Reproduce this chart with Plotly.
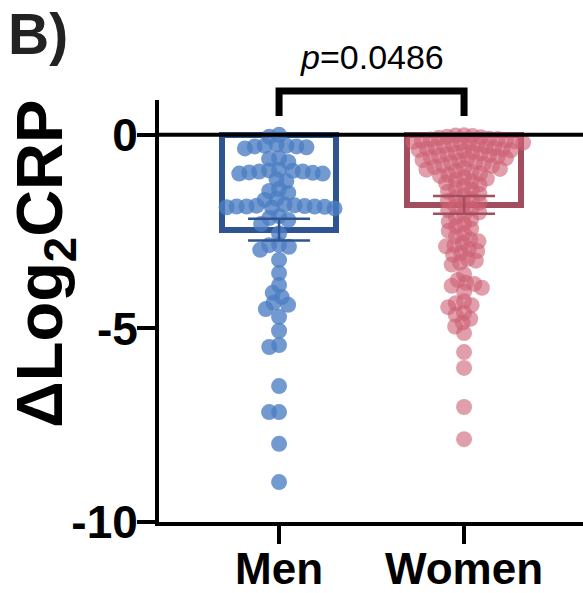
import plotly.graph_objects as go

# ---------------- data ----------------
groups = ["Men", "Women"]
group_x = [0, 1]

men_values = [
    0.0, -0.05,
    -0.25, -0.28, -0.3, -0.3, -0.32, -0.35, -0.28,
    -0.6, -0.62, -0.7,
    -0.9, -0.92, -0.95, -0.95, -0.97, -1.0, -1.0, -0.98, -0.93,
    -1.15, -1.2,
    -1.4, -1.45, -1.5,
    -1.65, -1.68,
    -1.8, -1.82, -1.85, -1.85, -1.87, -1.88, -1.9, -1.85, -1.83, -1.86, -1.84,
    -2.1, -2.15, -2.2,
    -2.3, -2.55,
    -2.84, -2.85, -2.89, -2.97, -3.23, -3.57, -3.88, -4.08, -4.19, -4.34,
    -4.39, -4.50, -4.70, -5.06, -5.43, -5.48, -6.49, -7.16, -7.16, -7.98, -8.97,
]

women_values = [
    -0.01, -0.02, -0.03, -0.05, -0.06, -0.08, -0.1, -0.11, -0.12, -0.14,
    -0.15, -0.17, -0.18, -0.2, -0.21, -0.23, -0.25, -0.26, -0.28, -0.3,
    -0.32, -0.34, -0.35, -0.37, -0.39, -0.4, -0.42, -0.44, -0.46, -0.48,
    -0.5, -0.52, -0.54, -0.56, -0.58, -0.6, -0.62, -0.65, -0.67, -0.7,
    -0.72, -0.75, -0.78, -0.8, -0.83, -0.86, -0.88, -0.9, -0.93, -0.96,
    -1.0, -1.03, -1.06, -1.1, -1.13, -1.16, -1.2, -1.24,
    -1.28, -1.33, -1.38, -1.42, -1.47, -1.52, -1.57, -1.62, -1.66, -1.7,
    -1.75, -1.8, -1.85, -1.9,
    -1.95, -2.0, -2.06, -2.12, -2.18, -2.24, -2.3, -2.36, -2.42, -2.48, -2.55, -2.62,
    -2.7, -2.75, -2.8, -2.85, -2.88, -2.95, -3.0, -3.05, -3.1, -3.2, -3.25, -3.3,
    -3.35, -3.6, -3.75, -3.82, -3.85, -3.9, -3.95, -4.05,
    -4.3, -4.35, -4.4, -4.45, -4.6, -4.65, -4.75, -4.85, -4.95, -5.12,
    -5.61, -6.02, -7.03, -7.86,
]

bar_means = [-2.45, -1.81]
bar_sems = [0.28, 0.23]

y_tick_vals = [0, -5, -10]
y_tick_text = ["0", "-5", "-10"]
p_label = "<i>p</i>=0.0486"
panel_label = "B)"
y_title = "ΔLog<sub>2</sub>CRP"

# ---------------- styling ----------------
W, H = 583, 593
M = dict(l=159, r=0, t=100, b=71)
x_range = [-0.649, 1.643]
y_range = [-10, 0.9]
FONT = "Liberation Sans, Arial, sans-serif"

men_dark = "#2E5491"
women_dark = "#A34E5E"
men_pt = "rgba(75,125,195,0.78)"
women_pt = "rgba(205,95,115,0.6)"

plot_w = W - M["l"] - M["r"]
plot_h = H - M["t"] - M["b"]
px_x = plot_w / (x_range[1] - x_range[0])
px_y = plot_h / (y_range[1] - y_range[0])


def paper_y(pix):
    """Convert a pixel row (from top) into paper y."""
    return (H - M["b"] - pix) / plot_h


def paper_x(pix):
    return (pix - M["l"]) / plot_w


def swarm(values, D):
    """Beeswarm offsets (in x data units) computed in pixel space."""
    ys = [v * px_y for v in values]
    order = sorted(range(len(values)), key=lambda i: -values[i])
    placed = []
    xs = [0.0] * len(values)
    for i in order:
        y = ys[i]
        ivs = []
        for xj, yj in placed:
            dy = abs(y - yj)
            if dy < D:
                dx = (D * D - dy * dy) ** 0.5
                ivs.append((xj - dx, xj + dx))
        cands = [0.0] + [a for a, b in ivs] + [b for a, b in ivs]
        cands.sort(key=abs)
        for c in cands:
            if all(not (a + 1e-6 < c < b - 1e-6) for a, b in ivs):
                xs[i] = c
                break
        placed.append((xs[i], y))
    return [x / px_x for x in xs]


men_off = swarm(men_values, 10)
women_off = swarm(women_values, 8.5)

fig = go.Figure()

fig.add_trace(go.Bar(
    x=group_x, y=bar_means, width=0.62,
    marker=dict(color="rgba(255,255,255,0)",
                line=dict(color=[men_dark, women_dark], width=6)),
    showlegend=False, hoverinfo="skip",
))

fig.add_trace(go.Scatter(
    x=[group_x[0] + o for o in men_off], y=men_values, mode="markers",
    marker=dict(size=16, color=men_pt, line=dict(width=0)), showlegend=False,
))
fig.add_trace(go.Scatter(
    x=[group_x[1] + o for o in women_off], y=women_values, mode="markers",
    marker=dict(size=16, color=women_pt, line=dict(width=0)), showlegend=False,
))

for gx, m, s, c in zip(group_x, bar_means, bar_sems, [men_dark, women_dark]):
    fig.add_trace(go.Scatter(
        x=[gx], y=[m], mode="markers",
        marker=dict(size=1, color="rgba(0,0,0,0)"),
        error_y=dict(type="data", array=[s], symmetric=True, color=c,
                     thickness=2.5, width=31),
        showlegend=False, hoverinfo="skip",
    ))

fig.add_shape(type="line", xref="paper", x0=0, x1=1, yref="y", y0=0, y1=0,
              line=dict(color="black", width=4), layer="above")

# significance bracket
leg_bottom = paper_y(116)
top = paper_y(91)
fig.add_shape(type="path", xref="x", yref="paper",
              path=(f"M {group_x[0]},{leg_bottom} L {group_x[0]},{top} "
                    f"L {group_x[1]},{top} L {group_x[1]},{leg_bottom}"),
              line=dict(color="black", width=7))

fig.add_annotation(text=p_label, xref="x", x=0.5, xanchor="center",
                   yref="paper", y=paper_y(57), yanchor="middle",
                   showarrow=False,
                   font=dict(family=FONT, size=34, color="black"))
fig.add_annotation(text=panel_label, xref="paper", x=paper_x(6),
                   xanchor="left", yref="paper", y=paper_y(0),
                   yanchor="top", showarrow=False,
                   font=dict(family=FONT, size=57, color="#222222", weight="bold"))
fig.add_annotation(text=y_title, xref="paper", x=paper_x(44), xanchor="center",
                   yref="paper", y=paper_y(264), yanchor="middle",
                   textangle=-90, showarrow=False,
                   font=dict(family=FONT, size=65, color="black", weight="bold"))

fig.update_layout(
    template="none",
    width=W, height=H, margin=M, plot_bgcolor="white", paper_bgcolor="white",
    bargap=0, showlegend=False,
    xaxis=dict(range=x_range, tickvals=group_x, ticktext=groups,
               automargin=False, ticklabelstandoff=-13,
               showline=True, linewidth=4, linecolor="black",
               ticks="outside", ticklen=18, tickwidth=4, tickcolor="black",
               showgrid=False, zeroline=False,
               tickfont=dict(family=FONT, size=44, color="black", weight="bold")),
    yaxis=dict(range=y_range, tickvals=y_tick_vals, ticktext=y_tick_text,
               automargin=False, ticklabelstandoff=-10,
               showline=True, linewidth=4, linecolor="black",
               ticks="outside", ticklen=18, tickwidth=4, tickcolor="black",
               showgrid=False, zeroline=False,
               tickfont=dict(family=FONT, size=46, color="black", weight="bold")),
)

fig.write_html(
    "out.html",
    config={"displayModeBar": False},
    post_script="document.body.style.margin='0';document.body.style.overflow='hidden';",
)
